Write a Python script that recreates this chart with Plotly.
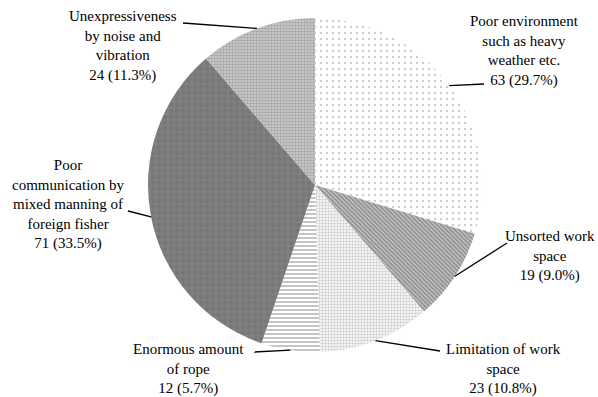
import math
import plotly.graph_objects as go

# Causes of poor communication on deck
categories = [
    "Poor environment<br>such as heavy<br>weather etc.",
    "Unsorted work<br>space",
    "Limitation of work<br>space",
    "Enormous amount<br>of rope",
    "Poor<br>communication by<br>mixed manning of<br>foreign fisher",
    "Unexpressiveness<br>by noise and<br>vibration",
]
counts = [63, 19, 23, 12, 71, 24]

# Fill patterns per slice (greyscale hatching)
pat_shape = [".", "\\", ".", "-", ".", "."]
pat_fg = ["#9a9a9a", "#505050", "#a0a0a0", "#8a8a8a", "#6e6e6e", "#7a7a7a"]
pat_bg = ["#ffffff", "#c4c4c4", "#ffffff", "#ffffff", "#808080", "#cfcfcf"]
pat_size = [6, 3, 3, 4, 6, 3]
pat_solid = [0.12, 0.5, 0.5, 0.5, 0.5, 0.5]

# Label block centre and leader-line end, in pixels of a 598x397 canvas
W, H = 598, 397
label_pos = [(524, 51), (550, 256), (503, 369), (188, 369), (68, 204), (123, 46)]
leader_end = [(484, 84), (507, 243), (440, 351), (254, 352), (128, 211), (183, 23)]

cx, cy, r = 315, 185, 167

fig = go.Figure(go.Pie(
    values=counts,
    labels=[c.replace("<br>", " ") for c in categories],
    sort=False,
    direction="clockwise",
    rotation=0,
    textinfo="none",
    hoverinfo="skip",
    marker=dict(
        colors=pat_bg,
        line=dict(width=0),
        pattern=dict(shape=pat_shape, fgcolor=pat_fg, bgcolor=pat_bg,
                     size=pat_size, solidity=pat_solid, fillmode="overlay"),
    ),
    domain=dict(x=[(cx - r) / W, (cx + r) / W], y=[1 - (cy + r) / H, 1 - (cy - r) / H]),
    showlegend=False,
))

total = sum(counts)
cum = 0
annotations = []
shapes = []
for name, v, (lx, ly), (ex, ey) in zip(categories, counts, label_pos, leader_end):
    mid = (cum + v / 2) / total * 2 * math.pi
    cum += v
    px = cx + r * math.sin(mid)
    py = cy - r * math.cos(mid)
    shapes.append(dict(type="line", xref="paper", yref="paper",
                       x0=px / W, y0=1 - py / H, x1=ex / W, y1=1 - ey / H,
                       line=dict(color="#000000", width=1.3)))
    pct = v / total * 100
    annotations.append(dict(
        x=lx / W, y=1 - ly / H, xref="paper", yref="paper",
        text=f"{name}<br>{v} ({pct:.1f}%)",
        showarrow=False, xanchor="center", yanchor="middle", align="center",
        font=dict(family="Liberation Serif, Times New Roman, serif", size=15, color="#000000"),
    ))

fig.update_layout(
    width=W, height=H,
    margin=dict(l=0, r=0, t=0, b=0),
    paper_bgcolor="#ffffff",
    plot_bgcolor="#ffffff",
    annotations=annotations,
    shapes=shapes,
)

fig.write_html("out.html")
